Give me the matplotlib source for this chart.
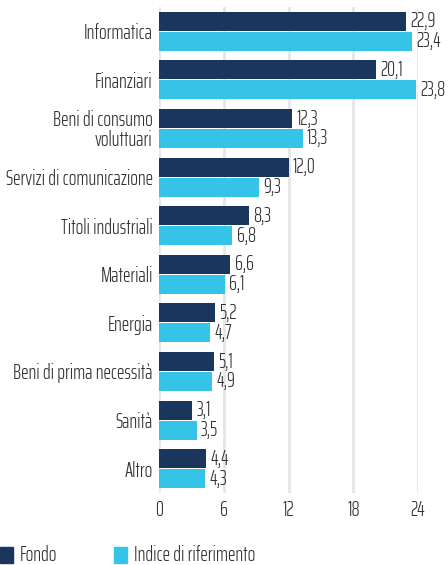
import matplotlib
matplotlib.use("Agg")
import matplotlib.pyplot as plt
from matplotlib.patches import Rectangle
import numpy as np

categorie = ["Informatica", "Finanziari", "Beni di consumo\nvoluttuari",
             "Servizi di comunicazione", "Titoli industriali", "Materiali",
             "Energia", "Beni di prima necessità", "Sanità", "Altro"]
fondo = [22.9, 20.1, 12.3, 12.0, 8.3, 6.6, 5.2, 5.1, 3.1, 4.4]
indice = [23.4, 23.8, 13.3, 9.3, 6.8, 6.1, 4.7, 4.9, 3.5, 4.3]
xticks = [0, 6, 12, 18, 24]

navy = "#1b365d"
cyan = "#35c4e8"
testo = "#333333"
fs = 14.5

plt.rcParams['font.family'] = ['Saira ExtraCondensed', 'DejaVu Sans']
plt.rcParams['font.weight'] = 300

fig = plt.figure(figsize=(4.48, 5.65), dpi=100)
ax = fig.add_axes([159/448, 1-493/565, (418-159)/448, 486/565])

y = np.arange(len(categorie))
h = 0.39
b1 = ax.barh(y - 0.205, fondo, height=h, color=navy, zorder=3)
b2 = ax.barh(y + 0.205, indice, height=h, color=cyan, zorder=3)

for bars, vals in ((b1, fondo), (b2, indice)):
    for r, v in zip(bars, vals):
        ax.text(r.get_width() + 0.4, r.get_y() + r.get_height()/2,
                f"{v:.1f}".replace(".", ","), va="center", ha="left",
                fontsize=fs, color=testo, clip_on=False)

ax.set_xlim(0, 24)
ax.set_ylim(9.5, -0.5)
ax.set_xticks(xticks)
ax.set_yticks(y)
ax.set_yticklabels(categorie, linespacing=1.0)
ax.tick_params(length=0, labelsize=fs, labelcolor=testo)
ax.tick_params(axis="y", pad=4.5)
ax.tick_params(axis="x", pad=5)
for s in ax.spines.values():
    s.set_visible(False)
ax.grid(axis="x", color="#e6e6e6", linewidth=2, zorder=0)
ax.grid(axis="y", visible=False)

# legenda
W, H = 448, 565
for x0, col, lab in ((0, navy, "Fondo"), (114, cyan, "Indice di riferimento")):
    fig.add_artist(Rectangle((x0/W, 1-563/H), 13/W, 16/H, color=col,
                             transform=fig.transFigure))
    fig.text((x0+20)/W, 1-555/H, lab, va="center", ha="left",
             fontsize=fs, color=testo)

fig.savefig("out.png", dpi=100)
